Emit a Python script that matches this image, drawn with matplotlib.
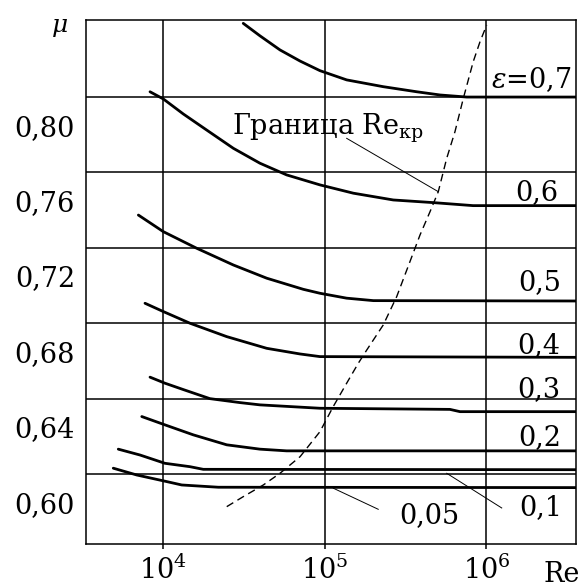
import numpy as np
import matplotlib.pyplot as plt
import matplotlib.transforms as mtransforms

plt.rcParams['font.family'] = 'DejaVu Serif'
plt.rcParams['mathtext.fontset'] = 'dejavuserif'

# кривые mu(Re) для разных eps: lg(Re) и mu
lg_07 = [4.498, 4.601, 4.725, 4.849, 4.972, 5.137, 5.363, 5.570, 5.714, 5.879, 6.6]
mu_07 = [0.8591, 0.8525, 0.8450, 0.8391, 0.8340, 0.8291, 0.8255, 0.8228, 0.8211, 0.8200, 0.8200]

lg_06 = [3.922, 4.004, 4.128, 4.272, 4.437, 4.601, 4.766, 4.972, 5.178, 5.425, 5.672, 5.918, 6.6]
mu_06 = [0.8228, 0.8190, 0.8110, 0.8025, 0.7928, 0.7849, 0.7787, 0.7734, 0.7690, 0.7654,
         0.7640, 0.7624, 0.7624]

lg_05 = [3.850, 4.004, 4.210, 4.437, 4.643, 4.869, 4.972, 5.137, 5.302, 6.6]
mu_05 = [0.7574, 0.7486, 0.7398, 0.7309, 0.7239, 0.7180, 0.7159, 0.7133, 0.7120, 0.7118]

lg_04 = [3.891, 4.004, 4.169, 4.396, 4.643, 4.849, 4.972, 6.6]
mu_04 = [0.7106, 0.7062, 0.7000, 0.6929, 0.6867, 0.6837, 0.6823, 0.6819]

lg_03 = [3.922, 4.014, 4.128, 4.292, 4.478, 4.601, 4.910, 4.972, 5.775, 5.837, 6.6]
mu_03 = [0.6714, 0.6682, 0.6648, 0.6600, 0.6579, 0.6567, 0.6552, 0.6549, 0.6543, 0.6531, 0.6531]

lg_02 = [3.871, 4.014, 4.189, 4.396, 4.601, 4.766, 6.6]
mu_02 = [0.6505, 0.6461, 0.6408, 0.6355, 0.6332, 0.6323, 0.6323]

lg_01 = [3.726, 3.860, 4.014, 4.169, 4.251, 6.6]
mu_01 = [0.6332, 0.6301, 0.6257, 0.6239, 0.6225, 0.6223]

lg_005 = [3.695, 3.840, 4.025, 4.118, 4.344, 6.6]
mu_005 = [0.6231, 0.6195, 0.6160, 0.6142, 0.6130, 0.6128]

# граница Re_кр (пунктир)
lg_kr = [4.396, 4.498, 4.622, 4.725, 4.849, 4.972, 5.054, 5.137, 5.209, 5.261, 5.363,
         5.446, 5.528, 5.590, 5.652, 5.703, 5.755, 5.806, 5.858, 5.919, 5.961, 6.002]
mu_kr = [0.6027, 0.6080, 0.6142, 0.6204, 0.6292, 0.6425, 0.6558, 0.6682, 0.6788, 0.6858,
         0.6991, 0.7141, 0.7327, 0.7468, 0.7592, 0.7698, 0.7875, 0.8016, 0.8194, 0.8388,
         0.8494, 0.8582]

# подписи кривых: lg(Re) центра и mu базовой линии
eps_names = [r'$\varepsilon$=0,7', '0,6', '0,5', '0,4', '0,3', '0,2', '0,1', '0,05']
lbl_lg = [6.276, 6.311, 6.332, 6.322, 6.324, 6.327, 6.336, 5.646]
lbl_mu = [0.8248, 0.7654, 0.7177, 0.6842, 0.6609, 0.6354, 0.5980, 0.5941]

# выноски
lead_kr_lg = [5.137, 5.703]
lead_kr_mu = [0.7981, 0.7698]
lead_005_lg = [5.054, 5.332]
lead_005_mu = [0.6125, 0.6013]
lead_01_lg = [5.755, 6.095]
lead_01_mu = [0.6204, 0.6020]

ytick_vals = [0.60, 0.64, 0.68, 0.72, 0.76, 0.80]
ytick_text = ['0,60', '0,64', '0,68', '0,72', '0,76', '0,80']
ygrid_vals = [0.62, 0.66, 0.70, 0.74, 0.78, 0.82]
xtick_vals = [1e4, 1e5, 1e6]
xtick_text = ['$10^4$', '$10^5$', '$10^6$']

fs = 19.5

fig = plt.figure(figsize=(5.85, 5.87), dpi=100)
ax = fig.add_axes([0.147, 0.0733, 0.8371, 0.8927])

curves = [(lg_07, mu_07), (lg_06, mu_06), (lg_05, mu_05), (lg_04, mu_04),
          (lg_03, mu_03), (lg_02, mu_02), (lg_01, mu_01), (lg_005, mu_005)]
for lg, mu in curves:
    ax.plot(10 ** np.array(lg), mu, color='black', lw=2.0,
            solid_capstyle='round', solid_joinstyle='round')

ax.plot(10 ** np.array(lg_kr), mu_kr, color='black', lw=1.0, dashes=(5.5, 3.5))

for lg, mu in [(lead_kr_lg, lead_kr_mu), (lead_005_lg, lead_005_mu),
               (lead_01_lg, lead_01_mu)]:
    ax.plot(10 ** np.array(lg), mu, color='black', lw=0.7)

for name, lg, mu in zip(eps_names, lbl_lg, lbl_mu):
    ax.text(10 ** lg, mu, name, ha='center', va='baseline', fontsize=fs)

ax.text(10 ** 4.428, 0.7999, 'Граница Re$_{\\mathregular{кр}}$',
        ha='left', va='baseline', fontsize=fs)

ax.set_xscale('log')
ax.set_xlim(10 ** 3.5264, 10 ** 6.552)
ax.set_ylim(0.5829, 0.8609)

ax.set_xticks(xtick_vals)
ax.set_xticklabels(xtick_text, fontsize=fs)
ax.xaxis.set_minor_locator(plt.NullLocator())
ax.tick_params(axis='x', which='major', length=3.5, width=1.1, pad=5)

ax.set_yticks(ytick_vals)
ax.set_yticklabels(ytick_text, fontsize=fs)
ax.set_yticks(ygrid_vals, minor=True)
ax.tick_params(axis='y', which='both', length=0, pad=8)
shift = mtransforms.ScaledTranslation(0, 9.5 / 100, fig.dpi_scale_trans)
for t in ax.get_yticklabels():
    t.set_transform(t.get_transform() + shift)

ax.grid(True, axis='x', which='major', color='black', lw=1.1)
ax.grid(True, axis='y', which='minor', color='black', lw=1.1)
for s in ax.spines.values():
    s.set_linewidth(1.1)

ax.text(0.972, -0.059, 'Re', transform=ax.transAxes, ha='center', va='center',
        fontsize=fs)
ax.text(-0.053, 0.99, 'μ', transform=ax.transAxes, ha='center', va='center',
        fontsize=18, style='italic')

fig.savefig('out.png', dpi=100)
